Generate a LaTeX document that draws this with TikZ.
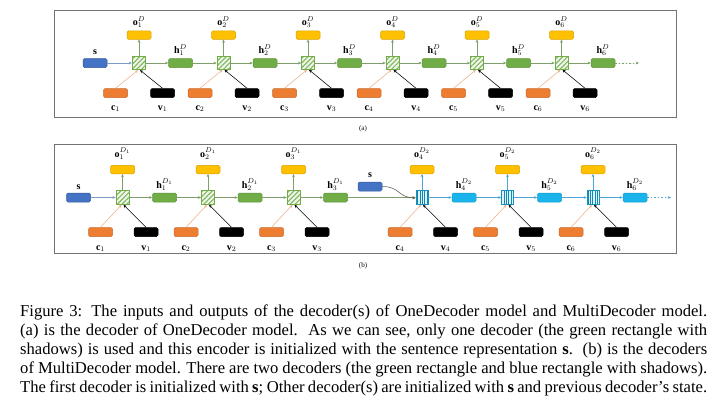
\documentclass[tikz,border=0pt]{standalone}
\usepackage{fontspec}
\setmainfont{Liberation Serif}
\usetikzlibrary{arrows.meta,patterns.meta}
\definecolor{sblue}{HTML}{4472C4}
\definecolor{oyel}{HTML}{FFC000}
\definecolor{hgreen}{HTML}{70AD47}
\definecolor{corange}{HTML}{ED7D31}
\definecolor{hcyan}{HTML}{1AB4EC}
\definecolor{garrowc}{HTML}{7E9E6C}
\definecolor{sarrowc}{HTML}{7C9CC4}
\definecolor{carrowc}{HTML}{EDB08A}
\definecolor{barrowc}{HTML}{4BA6D6}
\begin{document}
\begin{tikzpicture}[x=1pt,y=-1pt,
  box/.style={rounded corners=1.5pt, minimum width=24pt, minimum height=9pt, inner sep=0pt, line width=0.5pt},
  sbox/.style={box, fill=sblue, draw=sblue!80!black},
  obox/.style={box, minimum height=8.5pt, fill=oyel, draw=oyel!85!black},
  hbox/.style={box, fill=hgreen, draw=hgreen!85!black},
  bbox/.style={box, fill=hcyan, draw=hcyan!85!black},
  cbox/.style={box, fill=corange, draw=corange!85!black},
  vbox/.style={box, fill=black, draw=black},
  gcell/.style={minimum width=13pt, minimum height=13pt, inner sep=0pt, draw=hgreen, line width=0.6pt,
    preaction={fill=hgreen!10}, pattern={Lines[angle=45,distance=3.4pt,line width=1.2pt]}, pattern color=hgreen!85},
  bcell/.style={minimum width=12pt, minimum height=14pt, inner sep=0pt, draw=hcyan!80!black, line width=0.5pt,
    preaction={fill=hcyan!15}, pattern={Lines[angle=90,distance=2.4pt,line width=0.7pt]}, pattern color=hcyan!75!black},
  lab/.style={font=\fontsize{10}{12}\selectfont, inner sep=0pt, anchor=base},
  arr/.style={-{Stealth[length=3.2pt,width=2.8pt]}, line width=0.55pt},
  garr/.style={arr, draw=garrowc, fill=garrowc},
  sarr/.style={arr, draw=sarrowc},
  carr/.style={arr, draw=carrowc},
  varr/.style={arr, draw=black},
  barr/.style={arr, draw=barrowc},
  frame/.style={draw=black!55, line width=0.9pt},
  capline/.style={anchor=base west, inner sep=0pt, font=\fontsize{16.6}{19}\selectfont}
]
\useasboundingbox (0,0) rectangle (720,408);

% ---------------- (a) ----------------
\draw[frame] (54,10) rectangle (676,117);
\node[font=\fontsize{7}{8}\selectfont, inner sep=0pt] (capa) at (363,129) {(a)};
\node[sbox] (sa) at (95,63) {};
\node[lab] (sla) at (95,54) {$\mathbf{s}$};
\foreach \i in {1,...,6} {
  \pgfmathsetmacro\cx{139+84.5*(\i-1)}
  \node[gcell] (ga\i) at (\cx,63) {};
  \node[obox] (oa\i) at (\cx,35) {};
  \node[lab] (ola\i) at (\cx,25.5) {$\mathbf{o}_{\i}^{D}$};
  \node[hbox] (ha\i) at (\cx+41.5,63) {};
  \node[lab] (hla\i) at (\cx+41.5,53.5) {$\mathbf{h}_{\i}^{D}$};
  \node[cbox] (cca\i) at (\cx-23.5,93) {};
  \node[lab] (ccla\i) at (\cx-23.5,110) {$\mathbf{c}_{\i}$};
  \node[vbox] (va\i) at (\cx+23.5,93) {};
  \node[lab] (vla\i) at (\cx+23.5,110) {$\mathbf{v}_{\i}$};
  \draw[garr] (ga\i.east) -- (ha\i.west);
  \draw[garr] (ga\i.north) -- (oa\i.south);
  \draw[carr] (cca\i.north) -- ([xshift=-1pt]ga\i.south);
  \draw[varr] (va\i.north) -- ([xshift=1pt]ga\i.south);
}
\draw[sarr] (sa.east) -- (ga1.west);
\foreach \i [count=\j] in {2,...,6} {
  \draw[garr] (ha\j.east) -- (ga\i.west);
}
\coordinate (enda) at (639,63);
\draw[garr, dash pattern=on 1.5pt off 2pt] (ha6.east) -- (enda);

% ---------------- (b) ----------------
\draw[frame] (54,144) rectangle (676,253);
\node[font=\fontsize{7}{8}\selectfont, inner sep=0pt] (capb) at (363,266) {(b)};
\node[sbox] (sb) at (78.5,197.5) {};
\node[lab] (slb) at (78.5,189) {$\mathbf{s}$};
\node[sbox] (sbb) at (370,186.5) {};
\node[lab] (slbb) at (370,177.5) {$\mathbf{s}$};
\foreach \i in {1,2,3} {
  \pgfmathsetmacro\cx{122.5+85.5*(\i-1)}
  \node[gcell, minimum height=14pt] (gb\i) at (\cx,197.5) {};
  \node[obox] (ob\i) at (\cx,169.5) {};
  \node[lab] (olb\i) at (\cx,157) {$\mathbf{o}_{\i}^{D_1}$};
  \node[hbox] (hb\i) at (\cx+42,197.5) {};
  \node[lab] (hlb\i) at (\cx+42,188) {$\mathbf{h}_{\i}^{D_1}$};
  \node[cbox] (ccb\i) at (\cx-22,232) {};
  \node[lab] (cclb\i) at (\cx-22,250) {$\mathbf{c}_{\i}$};
  \node[vbox] (vb\i) at (\cx+23.5,232) {};
  \node[lab] (vlb\i) at (\cx+23.5,250) {$\mathbf{v}_{\i}$};
  \draw[garr] (gb\i.east) -- (hb\i.west);
  \draw[garr] (gb\i.north) -- (ob\i.south);
  \draw[carr] (ccb\i.north) -- ([xshift=-1pt]gb\i.south);
  \draw[varr] (vb\i.north) -- ([xshift=1pt]gb\i.south);
}
\foreach \i in {4,5,6} {
  \pgfmathsetmacro\cx{422+85.5*(\i-4)}
  \node[bcell] (gb\i) at (\cx,197.5) {};
  \node[obox] (ob\i) at (\cx,169.5) {};
  \node[lab] (olb\i) at (\cx,157) {$\mathbf{o}_{\i}^{D_2}$};
  \node[bbox] (hb\i) at (\cx+42,197.5) {};
  \node[lab] (hlb\i) at (\cx+42,188) {$\mathbf{h}_{\i}^{D_2}$};
  \node[cbox] (ccb\i) at (\cx-22,232) {};
  \node[lab] (cclb\i) at (\cx-22,250) {$\mathbf{c}_{\i}$};
  \node[vbox] (vb\i) at (\cx+23.5,232) {};
  \node[lab] (vlb\i) at (\cx+23.5,250) {$\mathbf{v}_{\i}$};
  \draw[barr] (gb\i.east) -- (hb\i.west);
  \draw[barr] (gb\i.north) -- (ob\i.south);
  \draw[carr] (ccb\i.north) -- ([xshift=-1pt]gb\i.south);
  \draw[varr] (vb\i.north) -- ([xshift=1pt]gb\i.south);
}
\draw[sarr] (sb.east) -- (gb1.west);
\draw[garr] (hb1.east) -- (gb2.west);
\draw[garr] (hb2.east) -- (gb3.west);
\draw[garr] (hb3.east) -- (gb4.west);
\draw[barr] (hb4.east) -- (gb5.west);
\draw[barr] (hb5.east) -- (gb6.west);
\draw[arr, draw=black!65] (sbb.east) .. controls (400,186.5) and (398,197.5) .. ([yshift=-0.5pt]gb4.west);
\coordinate (endb) at (671,197.5);
\draw[barr, dash pattern=on 1.5pt off 2pt] (hb6.east) -- (endb);

% ---------------- caption ----------------
\node[capline] (cap1) at (20,316) {\makebox[687pt][s]{Figure 3: The inputs and outputs of the decoder(s) of OneDecoder model and MultiDecoder model.}};
\node[capline] (cap2) at (20,335.2) {\makebox[687pt][s]{(a) is the decoder of OneDecoder model.\ \ As we can see, only one decoder (the green rectangle with}};
\node[capline] (cap3) at (20,354.4) {\makebox[687pt][s]{shadows) is used and this encoder is initialized with the sentence representation \textbf{s}.\ \ (b) is the decoders}};
\node[capline] (cap4) at (20,373.6) {\makebox[687pt][s]{of MultiDecoder model. There are two decoders (the green rectangle and blue rectangle with shadows).}};
\node[capline] (cap5) at (20,392.8) {\makebox[687pt][s]{The first decoder is initialized with \textbf{s}; Other decoder(s) are initialized with \textbf{s} and previous decoder’s state.}};
\end{tikzpicture}
\end{document}
